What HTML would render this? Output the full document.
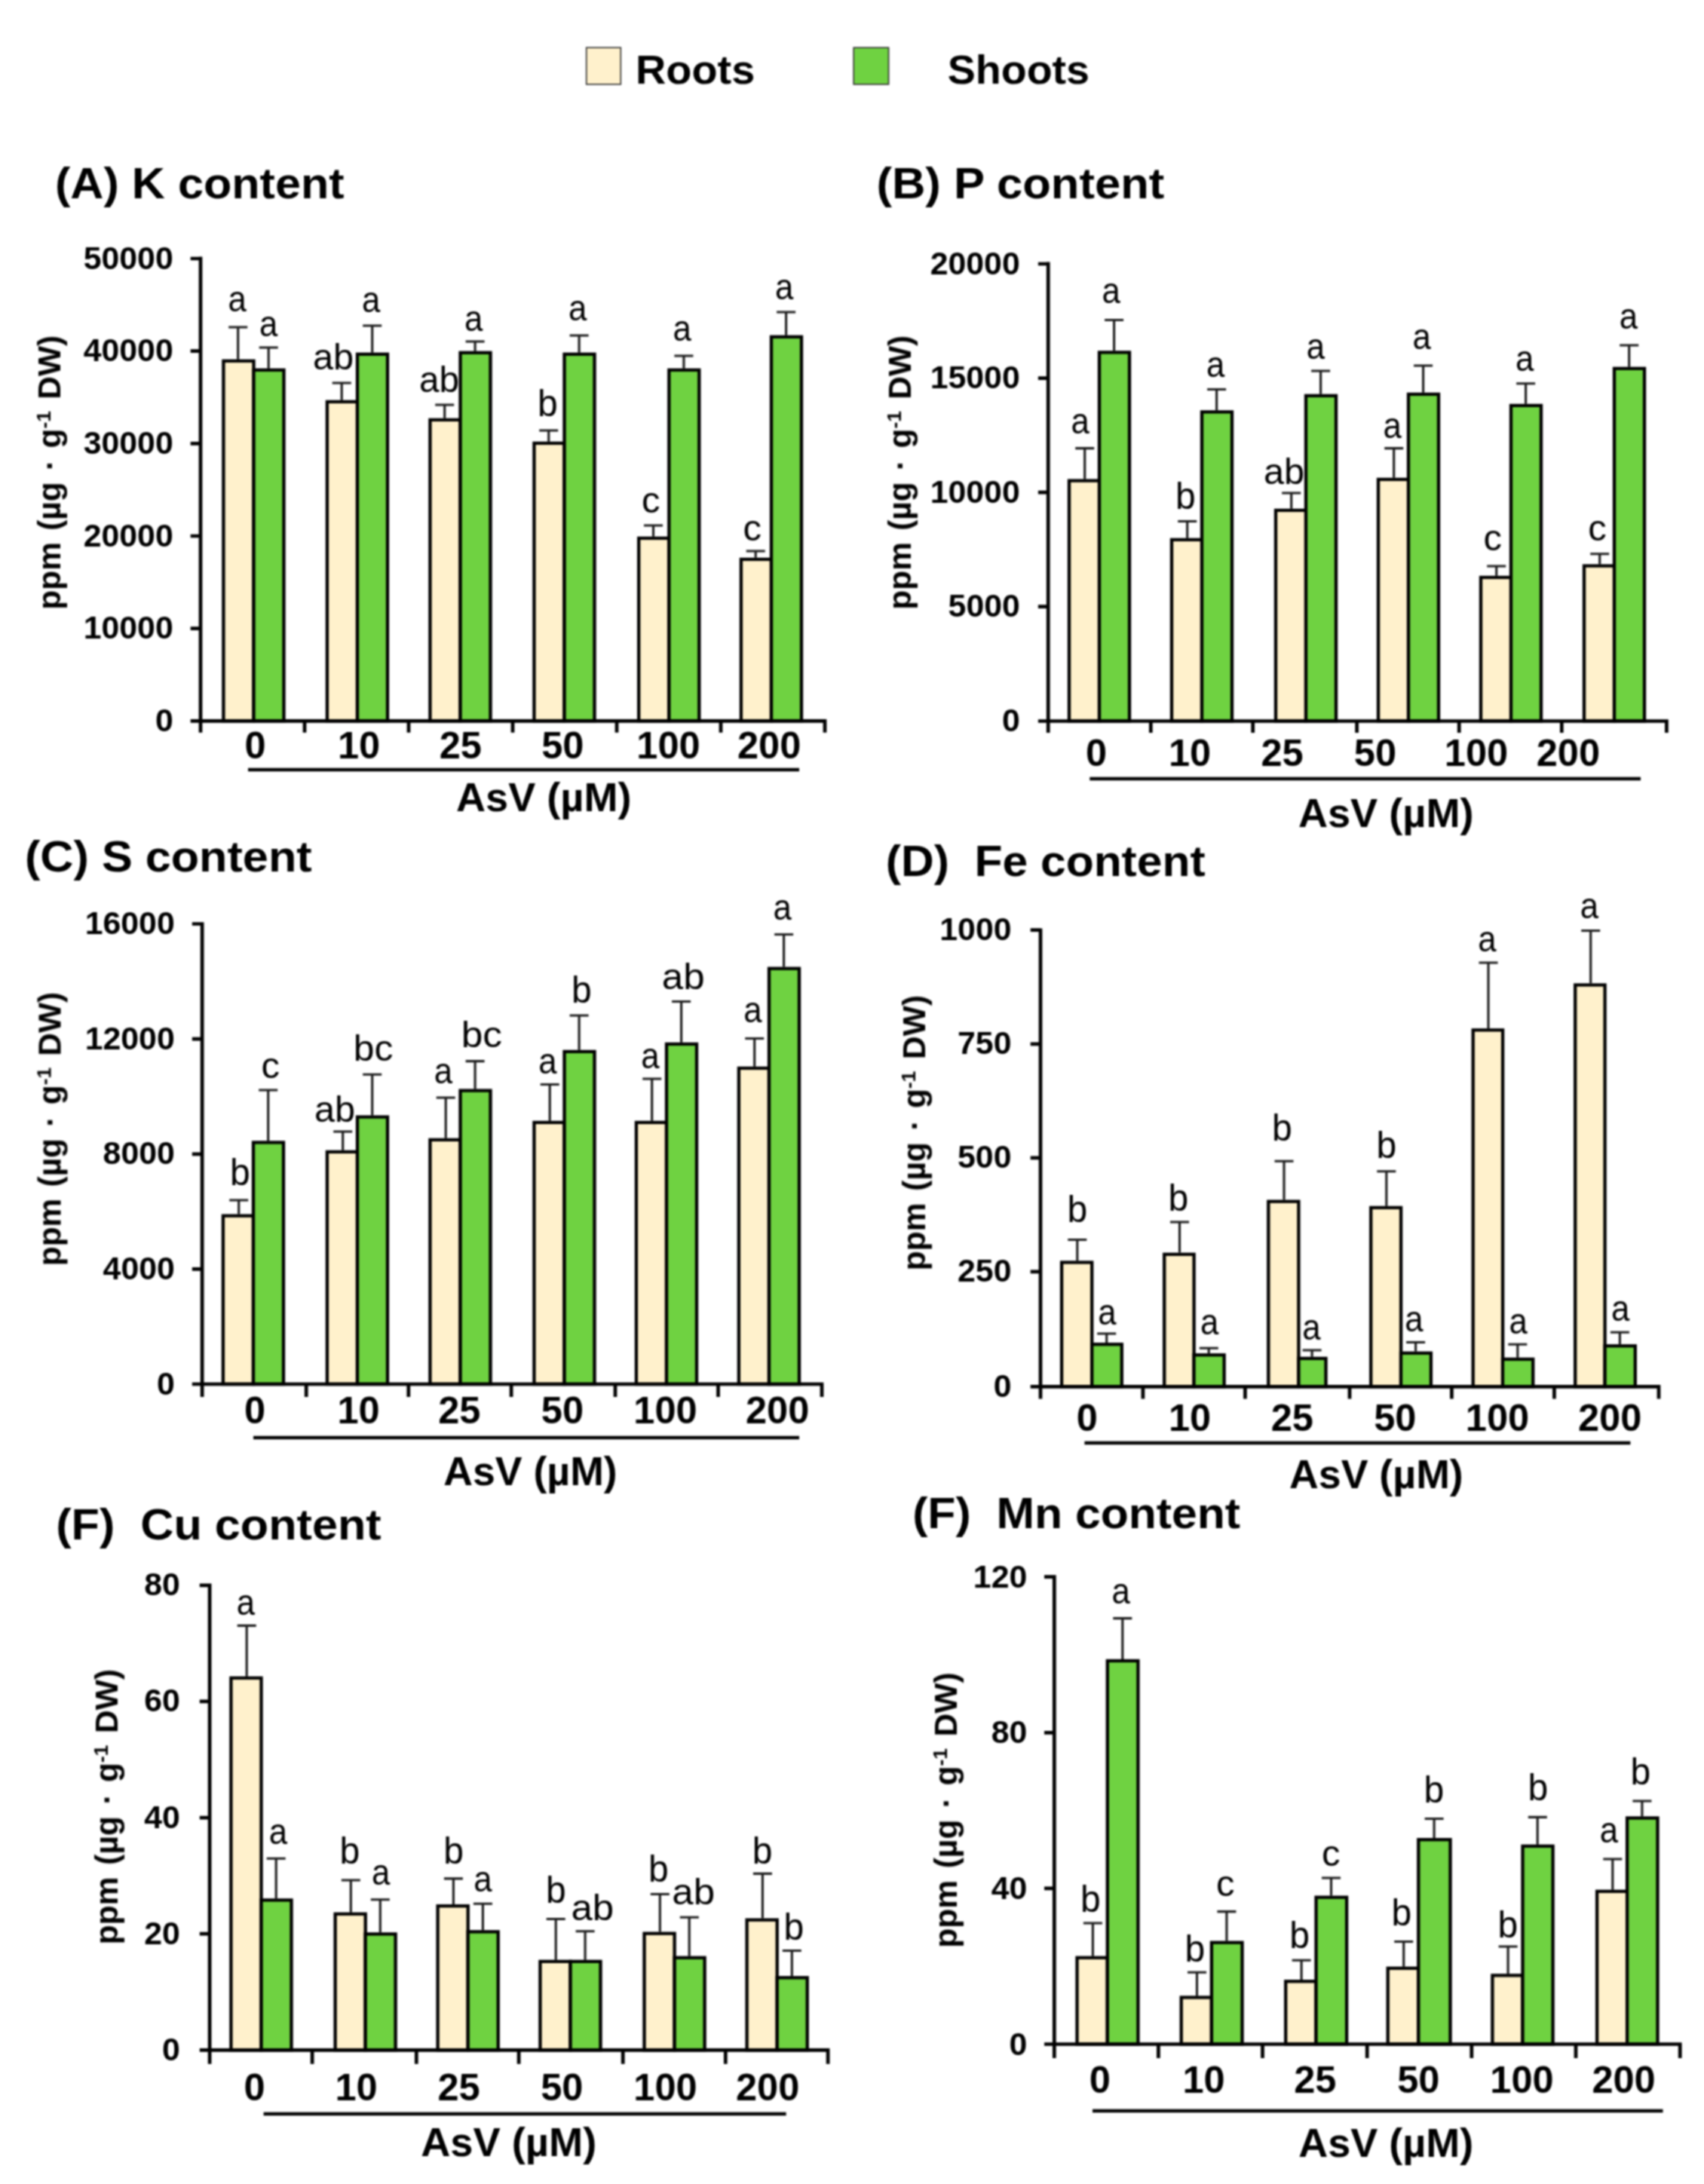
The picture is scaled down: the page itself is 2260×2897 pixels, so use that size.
<!DOCTYPE html>
<html lang="en">
<head>
<meta charset="utf-8">
<title>Nutrient content under AsV treatment</title>
<style>
html,body{margin:0;padding:0;background:#fff;}
body{width:2260px;height:2897px;overflow:hidden;}
svg{display:block;}
text{font-family:"Liberation Sans",sans-serif;fill:#000;white-space:pre;}
.b{font-weight:700;}
.r{font-weight:400;}
.a{fill:none;stroke:#000;stroke-width:4.7;stroke-linecap:butt;}
.u{fill:none;stroke:#000;stroke-width:4.4;}
.e{fill:none;stroke:#1c1c1c;stroke-width:3.1;}
.br{fill:#FFF1CC;stroke:#000;stroke-width:4.3;stroke-linejoin:miter;}
.bs{fill:#6FD241;stroke:#000;stroke-width:4.3;stroke-linejoin:miter;}
</style>
</head>
<body>
<svg xml:space="preserve" width="2260" height="2897" viewBox="0 0 2260 2897">
<defs><filter id="soft" x="0" y="0" width="2260" height="2897" filterUnits="userSpaceOnUse" color-interpolation-filters="sRGB"><feGaussianBlur stdDeviation="1"/></filter></defs>
<rect width="2260" height="2897" fill="#fff"/>
<g filter="url(#soft)">
<rect x="777.7" y="63.2" width="45.6" height="48.6" fill="#FFF1CC" stroke="#2a2a2a" stroke-width="1.6"/>
<rect x="1132.2" y="63.2" width="46.4" height="48.6" fill="#6FD241" stroke="#2a2a2a" stroke-width="1.6"/>
<text class="b" font-size="54" transform="translate(842.93,110.50) scale(1.0350,1)">Roots</text>
<text class="b" font-size="54" transform="translate(1256.73,110.50) scale(1.0293,1)">Shoots</text>
<g>
<path class="e" d="M315.7,476.7V434.0M303.2,434.0H328.2"/>
<path class="e" d="M356.2,488.7V461.0M343.7,461.0H368.7"/>
<rect class="br" x="296.4" y="478.8" width="40.1" height="477.4"/>
<rect class="bs" x="336.5" y="490.8" width="40.0" height="465.4"/>
<path class="e" d="M453.2,530.7V508.0M440.7,508.0H465.7"/>
<path class="e" d="M493.7,467.7V432.0M481.2,432.0H506.2"/>
<rect class="br" x="433.9" y="532.9" width="40.1" height="423.4"/>
<rect class="bs" x="474.0" y="469.8" width="40.0" height="486.4"/>
<path class="e" d="M589.7,554.7V537.0M577.2,537.0H602.2"/>
<path class="e" d="M630.1,465.7V453.0M617.6,453.0H642.6"/>
<rect class="br" x="570.4" y="556.9" width="40.1" height="399.4"/>
<rect class="bs" x="610.5" y="467.8" width="40.0" height="488.4"/>
<path class="e" d="M727.7,585.7V571.0M715.2,571.0H740.2"/>
<path class="e" d="M768.1,467.7V445.0M755.6,445.0H780.6"/>
<rect class="br" x="708.4" y="587.9" width="40.1" height="368.4"/>
<rect class="bs" x="748.5" y="469.8" width="40.0" height="486.4"/>
<path class="e" d="M866.5,711.7V697.0M854.0,697.0H879.0"/>
<path class="e" d="M906.9,488.7V472.0M894.4,472.0H919.4"/>
<rect class="br" x="847.2" y="713.9" width="40.1" height="242.4"/>
<rect class="bs" x="887.3" y="490.8" width="40.0" height="465.4"/>
<path class="e" d="M1002.2,739.7V731.0M989.7,731.0H1014.7"/>
<path class="e" d="M1042.6,444.7V414.0M1030.1,414.0H1055.1"/>
<rect class="br" x="982.9" y="741.9" width="40.1" height="214.4"/>
<rect class="bs" x="1023.0" y="446.8" width="40.0" height="509.4"/>
<path class="a" d="M266.0,340.6V971.8M252.7,956.3H1096.3M252.7,343.0H266.0M252.7,465.7H266.0M252.7,588.3H266.0M252.7,711.0H266.0M252.7,833.7H266.0M404.0,956.3V971.8M542.0,956.3V971.8M680.0,956.3V971.8M818.0,956.3V971.8M956.0,956.3V971.8M1094.0,956.3V971.8"/>
<text class="b" font-size="42.8" x="110.73" y="356.50">50000</text>
<text class="b" font-size="42.8" x="110.73" y="479.20">40000</text>
<text class="b" font-size="42.8" x="110.73" y="601.80">30000</text>
<text class="b" font-size="42.8" x="110.73" y="724.50">20000</text>
<text class="b" font-size="42.8" x="110.73" y="847.20">10000</text>
<text class="b" font-size="42.8" x="205.96" y="969.80">0</text>
<text class="b" font-size="50.5" x="324.49" y="1006.00">0</text>
<text class="b" font-size="50.5" x="447.90" y="1006.00">10</text>
<text class="b" font-size="50.5" x="582.78" y="1006.00">25</text>
<text class="b" font-size="50.5" x="718.23" y="1006.00">50</text>
<text class="b" font-size="50.5" x="844.33" y="1006.00">100</text>
<text class="b" font-size="50.5" x="978.02" y="1006.00">200</text>
<path class="u" d="M329.0,1021.0H1060.0"/>
<text class="b" font-size="53" transform="translate(605.05,1076.00) scale(1.0206,1)">AsV (µM)</text>
<text class="b" font-size="57" transform="translate(72.94,263.00) scale(1.0727,1)">(A) K content</text>
<text class="b" font-size="42.5" word-spacing="3.5" transform="translate(80.00,808.76) rotate(-90) scale(0.9996,1)">ppm (µg · g<tspan font-size="26.4" dy="-12.8">-1</tspan><tspan dy="12.8"> DW)</tspan></text>
<text class="r" font-size="48" transform="translate(302.45,412.50) scale(0.9100,1.0)">a</text>
<text class="r" font-size="48" transform="translate(343.95,445.50) scale(0.9100,1.0)">a</text>
<text class="r" font-size="48" transform="translate(414.93,489.50) scale(1.0138,1)">ab</text>
<text class="r" font-size="48" transform="translate(479.95,413.50) scale(0.9100,1.0)">a</text>
<text class="r" font-size="48" transform="translate(555.97,520.00) scale(0.9935,1)">ab</text>
<text class="r" font-size="48" transform="translate(615.95,439.10) scale(0.9100,1.0)">a</text>
<text class="r" font-size="48" transform="translate(713.08,551.50) scale(1.0000,1.04)">b</text>
<text class="r" font-size="48" transform="translate(753.95,424.50) scale(0.9100,1.0)">a</text>
<text class="r" font-size="48" transform="translate(850.99,679.50) scale(1.0200,1.0)">c</text>
<text class="r" font-size="48" transform="translate(892.45,451.50) scale(0.9100,1.0)">a</text>
<text class="r" font-size="48" transform="translate(985.39,716.50) scale(1.0200,1.0)">c</text>
<text class="r" font-size="48" transform="translate(1027.95,396.50) scale(0.9100,1.0)">a</text>
</g>
<g>
<path class="e" d="M1438.7,635.4V594.6M1426.2,594.6H1451.2"/>
<path class="e" d="M1477.6,465.3V424.5M1465.1,424.5H1490.1"/>
<rect class="br" x="1418.0" y="637.6" width="40.1" height="318.9"/>
<rect class="bs" x="1458.0" y="467.4" width="40.0" height="489.1"/>
<path class="e" d="M1574.7,713.7V691.5M1562.2,691.5H1587.2"/>
<path class="e" d="M1613.6,544.2V516.5M1601.1,516.5H1626.1"/>
<rect class="br" x="1554.0" y="715.9" width="40.1" height="240.6"/>
<rect class="bs" x="1594.0" y="546.4" width="40.0" height="410.1"/>
<path class="e" d="M1712.7,674.7V654.0M1700.2,654.0H1725.2"/>
<path class="e" d="M1751.6,522.7V492.0M1739.1,492.0H1764.1"/>
<rect class="br" x="1692.0" y="676.9" width="40.1" height="279.6"/>
<rect class="bs" x="1732.0" y="524.9" width="40.0" height="431.6"/>
<path class="e" d="M1848.7,633.7V594.6M1836.2,594.6H1861.2"/>
<path class="e" d="M1887.6,520.7V485.0M1875.1,485.0H1900.1"/>
<rect class="br" x="1828.0" y="635.9" width="40.1" height="320.6"/>
<rect class="bs" x="1868.0" y="522.9" width="40.0" height="433.6"/>
<path class="e" d="M1984.7,763.7V751.0M1972.2,751.0H1997.2"/>
<path class="e" d="M2023.6,535.7V508.7M2011.1,508.7H2036.1"/>
<rect class="br" x="1964.0" y="765.9" width="40.1" height="190.6"/>
<rect class="bs" x="2004.0" y="537.9" width="40.0" height="418.6"/>
<path class="e" d="M2121.7,748.4V734.7M2109.2,734.7H2134.2"/>
<path class="e" d="M2160.7,486.7V458.0M2148.2,458.0H2173.2"/>
<rect class="br" x="2101.0" y="750.6" width="40.1" height="205.9"/>
<rect class="bs" x="2141.0" y="488.8" width="40.0" height="467.7"/>
<path class="a" d="M1390.2,347.6V972.0M1376.9,956.5H2212.8M1376.9,350.0H1390.2M1376.9,501.6H1390.2M1376.9,653.2H1390.2M1376.9,804.7H1390.2M1526.3,956.5V972.0M1661.7,956.5V972.0M1799.6,956.5V972.0M1935.2,956.5V972.0M2071.3,956.5V972.0M2210.4,956.5V972.0"/>
<text class="b" font-size="42.8" x="1233.73" y="363.50">20000</text>
<text class="b" font-size="42.8" x="1233.73" y="515.10">15000</text>
<text class="b" font-size="42.8" x="1233.73" y="666.70">10000</text>
<text class="b" font-size="42.8" x="1257.59" y="818.20">5000</text>
<text class="b" font-size="42.8" x="1328.96" y="969.80">0</text>
<text class="b" font-size="50.5" x="1439.99" y="1016.00">0</text>
<text class="b" font-size="50.5" x="1549.90" y="1016.00">10</text>
<text class="b" font-size="50.5" x="1672.38" y="1016.00">25</text>
<text class="b" font-size="50.5" x="1795.82" y="1016.00">50</text>
<text class="b" font-size="50.5" x="1915.83" y="1016.00">100</text>
<text class="b" font-size="50.5" x="2037.72" y="1016.00">200</text>
<path class="u" d="M1445.3,1033.0H2176.0"/>
<text class="b" font-size="53" transform="translate(1721.95,1096.50) scale(1.0210,1)">AsV (µM)</text>
<text class="b" font-size="57" transform="translate(1162.42,263.00) scale(1.0801,1)">(B) P content</text>
<text class="b" font-size="42.5" word-spacing="3.5" transform="translate(1208.00,808.76) rotate(-90) scale(0.9996,1)">ppm (µg · g<tspan font-size="26.4" dy="-12.8">-1</tspan><tspan dy="12.8"> DW)</tspan></text>
<text class="r" font-size="48" transform="translate(1420.45,574.50) scale(0.9100,1.0)">a</text>
<text class="r" font-size="48" transform="translate(1461.45,402.10) scale(0.9100,1.0)">a</text>
<text class="r" font-size="48" transform="translate(1559.08,674.50) scale(1.0000,1.04)">b</text>
<text class="r" font-size="48" transform="translate(1599.95,499.50) scale(0.9100,1.0)">a</text>
<text class="r" font-size="48" transform="translate(1675.93,641.50) scale(1.0138,1)">ab</text>
<text class="r" font-size="48" transform="translate(1732.65,476.10) scale(0.9100,1.0)">a</text>
<text class="r" font-size="48" transform="translate(1834.55,580.90) scale(0.9100,1.0)">a</text>
<text class="r" font-size="48" transform="translate(1873.55,462.50) scale(0.9100,1.0)">a</text>
<text class="r" font-size="48" transform="translate(1967.39,730.00) scale(1.0200,1.0)">c</text>
<text class="r" font-size="48" transform="translate(2009.95,491.50) scale(0.9100,1.0)">a</text>
<text class="r" font-size="48" transform="translate(2106.19,716.50) scale(1.0200,1.0)">c</text>
<text class="r" font-size="48" transform="translate(2147.65,436.30) scale(0.9100,1.0)">a</text>
</g>
<g>
<path class="e" d="M316.7,1610.5V1592.0M304.2,1592.0H329.2"/>
<path class="e" d="M355.7,1513.2V1446.0M343.2,1446.0H368.2"/>
<rect class="br" x="295.9" y="1612.7" width="40.1" height="223.3"/>
<rect class="bs" x="336.0" y="1515.4" width="40.0" height="320.6"/>
<path class="e" d="M454.7,1525.7V1501.0M442.2,1501.0H467.2"/>
<path class="e" d="M493.7,1479.4V1425.3M481.2,1425.3H506.2"/>
<rect class="br" x="433.9" y="1527.9" width="40.1" height="308.1"/>
<rect class="bs" x="474.0" y="1481.6" width="40.0" height="354.4"/>
<path class="e" d="M591.2,1509.7V1456.0M578.7,1456.0H603.7"/>
<path class="e" d="M630.1,1444.4V1407.6M617.6,1407.6H642.6"/>
<rect class="br" x="570.4" y="1511.9" width="40.1" height="324.1"/>
<rect class="bs" x="610.5" y="1446.6" width="40.0" height="389.4"/>
<path class="e" d="M729.2,1486.7V1438.5M716.7,1438.5H741.7"/>
<path class="e" d="M768.1,1392.7V1347.0M755.6,1347.0H780.6"/>
<rect class="br" x="708.4" y="1488.9" width="40.1" height="347.1"/>
<rect class="bs" x="748.5" y="1394.9" width="40.0" height="441.1"/>
<path class="e" d="M864.7,1486.7V1431.0M852.2,1431.0H877.2"/>
<path class="e" d="M903.6,1382.7V1328.5M891.1,1328.5H916.1"/>
<rect class="br" x="843.9" y="1488.9" width="40.1" height="347.1"/>
<rect class="bs" x="884.0" y="1384.9" width="40.0" height="451.1"/>
<path class="e" d="M1000.7,1414.7V1377.5M988.2,1377.5H1013.2"/>
<path class="e" d="M1039.6,1282.5V1239.5M1027.1,1239.5H1052.1"/>
<rect class="br" x="979.9" y="1416.9" width="40.1" height="419.1"/>
<rect class="bs" x="1020.0" y="1284.7" width="40.0" height="551.4"/>
<path class="a" d="M268.1,1223.2V1853.0M254.8,1836.0H1092.3M254.8,1225.5H268.1M254.8,1378.1H268.1M254.8,1530.8H268.1M254.8,1683.4H268.1M406.2,1836.0V1853.0M541.8,1836.0V1853.0M678.1,1836.0V1853.0M816.0,1836.0V1853.0M952.5,1836.0V1853.0M1090.0,1836.0V1853.0"/>
<text class="b" font-size="42.8" x="112.73" y="1239.00">16000</text>
<text class="b" font-size="42.8" x="112.73" y="1391.62">12000</text>
<text class="b" font-size="42.8" x="136.59" y="1544.25">8000</text>
<text class="b" font-size="42.8" x="136.59" y="1696.88">4000</text>
<text class="b" font-size="42.8" x="207.96" y="1849.50">0</text>
<text class="b" font-size="50.5" x="323.99" y="1887.60">0</text>
<text class="b" font-size="50.5" x="447.40" y="1887.60">10</text>
<text class="b" font-size="50.5" x="581.28" y="1887.60">25</text>
<text class="b" font-size="50.5" x="717.83" y="1887.60">50</text>
<text class="b" font-size="50.5" x="840.33" y="1887.60">100</text>
<text class="b" font-size="50.5" x="989.02" y="1887.60">200</text>
<path class="u" d="M336.0,1907.0H1060.0"/>
<text class="b" font-size="53" transform="translate(588.26,1970.00) scale(1.0117,1)">AsV (µM)</text>
<text class="b" font-size="57" transform="translate(32.94,1156.00) scale(1.0737,1)">(C) S content</text>
<text class="b" font-size="42.5" word-spacing="3.5" transform="translate(80.50,1679.26) rotate(-90) scale(0.9982,1)">ppm (µg · g<tspan font-size="26.4" dy="-12.8">-1</tspan><tspan dy="12.8"> DW)</tspan></text>
<text class="r" font-size="48" transform="translate(305.08,1571.50) scale(1.0000,1.04)">b</text>
<text class="r" font-size="48" transform="translate(346.39,1429.50) scale(1.0200,1.0)">c</text>
<text class="r" font-size="48" transform="translate(416.93,1487.50) scale(1.0138,1)">ab</text>
<text class="r" font-size="48" transform="translate(468.76,1407.00) scale(1.0390,1)">bc</text>
<text class="r" font-size="48" transform="translate(575.65,1436.50) scale(0.9100,1.0)">a</text>
<text class="r" font-size="48" transform="translate(611.66,1388.50) scale(1.0714,1)">bc</text>
<text class="r" font-size="48" transform="translate(714.35,1423.50) scale(0.9100,1.0)">a</text>
<text class="r" font-size="48" transform="translate(758.08,1330.00) scale(1.0000,1.04)">b</text>
<text class="r" font-size="48" transform="translate(850.35,1416.50) scale(0.9100,1.0)">a</text>
<text class="r" font-size="48" transform="translate(877.83,1312.20) scale(1.0645,1)">ab</text>
<text class="r" font-size="48" transform="translate(986.35,1355.50) scale(0.9100,1.0)">a</text>
<text class="r" font-size="48" transform="translate(1025.45,1219.50) scale(0.9100,1.0)">a</text>
</g>
<g>
<path class="e" d="M1428.8,1672.3V1644.5M1416.3,1644.5H1441.3"/>
<path class="e" d="M1467.7,1781.0V1769.0M1455.2,1769.0H1480.2"/>
<rect class="br" x="1408.1" y="1674.5" width="40.1" height="164.8"/>
<rect class="bs" x="1448.2" y="1783.2" width="39.6" height="56.1"/>
<path class="e" d="M1564.5,1661.6V1621.0M1552.0,1621.0H1577.0"/>
<path class="e" d="M1603.2,1795.1V1788.3M1590.8,1788.3H1615.8"/>
<rect class="br" x="1544.2" y="1663.8" width="39.4" height="175.5"/>
<rect class="bs" x="1583.5" y="1797.3" width="40.1" height="42.0"/>
<path class="e" d="M1703.0,1591.5V1540.2M1690.5,1540.2H1715.5"/>
<path class="e" d="M1740.1,1799.7V1791.0M1727.6,1791.0H1752.6"/>
<rect class="br" x="1682.3" y="1593.7" width="40.1" height="245.6"/>
<rect class="bs" x="1722.4" y="1801.9" width="36.1" height="37.4"/>
<path class="e" d="M1838.8,1599.7V1553.8M1826.3,1553.8H1851.3"/>
<path class="e" d="M1877.6,1792.6V1780.5M1865.1,1780.5H1890.1"/>
<rect class="br" x="1818.2" y="1601.9" width="39.9" height="237.4"/>
<rect class="bs" x="1858.0" y="1794.8" width="39.9" height="44.5"/>
<path class="e" d="M1974.0,1364.1V1277.0M1961.5,1277.0H1986.5"/>
<path class="e" d="M2012.8,1800.7V1783.3M2000.3,1783.3H2025.3"/>
<rect class="br" x="1953.7" y="1366.3" width="39.4" height="473.0"/>
<rect class="bs" x="1993.0" y="1802.9" width="40.2" height="36.4"/>
<path class="e" d="M2109.7,1304.3V1234.5M2097.2,1234.5H2122.2"/>
<path class="e" d="M2148.4,1783.1V1767.3M2135.9,1767.3H2160.9"/>
<rect class="br" x="2089.2" y="1306.5" width="39.4" height="532.9"/>
<rect class="bs" x="2128.6" y="1785.3" width="40.2" height="54.0"/>
<path class="a" d="M1380.0,1231.4V1855.5M1366.7,1839.3H2202.3M1366.7,1233.7H1380.0M1366.7,1384.8H1380.0M1366.7,1535.9H1380.0M1366.7,1686.9H1380.0M1515.9,1839.3V1855.5M1651.4,1839.3V1855.5M1790.0,1839.3V1855.5M1925.4,1839.3V1855.5M2061.4,1839.3V1855.5M2200.0,1839.3V1855.5"/>
<text class="b" font-size="42.8" x="1246.29" y="1247.20">1000</text>
<text class="b" font-size="42.8" x="1270.04" y="1398.30">750</text>
<text class="b" font-size="42.8" x="1270.04" y="1549.40">500</text>
<text class="b" font-size="42.8" x="1270.04" y="1700.40">250</text>
<text class="b" font-size="42.8" x="1317.66" y="1852.80">0</text>
<text class="b" font-size="50.5" x="1427.69" y="1898.00">0</text>
<text class="b" font-size="50.5" x="1549.90" y="1898.00">10</text>
<text class="b" font-size="50.5" x="1685.78" y="1898.00">25</text>
<text class="b" font-size="50.5" x="1822.22" y="1898.00">50</text>
<text class="b" font-size="50.5" x="1943.83" y="1898.00">100</text>
<text class="b" font-size="50.5" x="2093.02" y="1898.00">200</text>
<path class="u" d="M1438.4,1914.0H2162.4"/>
<text class="b" font-size="53" transform="translate(1710.06,1974.00) scale(1.0125,1)">AsV (µM)</text>
<text class="b" font-size="57" transform="translate(1174.77,1162.00) scale(1.0626,1)">(D)  Fe content</text>
<text class="b" font-size="42.5" word-spacing="3.5" transform="translate(1227.00,1685.37) rotate(-90) scale(1.0041,1)">ppm (µg · g<tspan font-size="26.4" dy="-12.8">-1</tspan><tspan dy="12.8"> DW)</tspan></text>
<text class="r" font-size="48" transform="translate(1415.48,1621.30) scale(1.0000,1.04)">b</text>
<text class="r" font-size="48" transform="translate(1456.25,1756.50) scale(0.9100,1.0)">a</text>
<text class="r" font-size="48" transform="translate(1549.38,1606.00) scale(1.0000,1.04)">b</text>
<text class="r" font-size="48" transform="translate(1591.95,1770.00) scale(0.9100,1.0)">a</text>
<text class="r" font-size="48" transform="translate(1687.08,1512.50) scale(1.0000,1.04)">b</text>
<text class="r" font-size="48" transform="translate(1727.35,1777.00) scale(0.9100,1.0)">a</text>
<text class="r" font-size="48" transform="translate(1825.48,1536.00) scale(1.0000,1.04)">b</text>
<text class="r" font-size="48" transform="translate(1863.35,1766.30) scale(0.9100,1.0)">a</text>
<text class="r" font-size="48" transform="translate(1960.25,1261.50) scale(0.9100,1.0)">a</text>
<text class="r" font-size="48" transform="translate(2001.45,1768.80) scale(0.9100,1.0)">a</text>
<text class="r" font-size="48" transform="translate(2095.75,1217.50) scale(0.9100,1.0)">a</text>
<text class="r" font-size="48" transform="translate(2136.95,1752.30) scale(0.9100,1.0)">a</text>
</g>
<g>
<path class="e" d="M327.2,2223.7V2156.4M314.7,2156.4H339.7"/>
<path class="e" d="M366.2,2518.3V2465.3M353.7,2465.3H378.7"/>
<rect class="br" x="306.4" y="2225.8" width="40.1" height="493.5"/>
<rect class="bs" x="346.5" y="2520.4" width="40.0" height="198.9"/>
<path class="e" d="M465.3,2536.7V2494.0M452.8,2494.0H477.8"/>
<path class="e" d="M504.3,2563.3V2519.7M491.8,2519.7H516.8"/>
<rect class="br" x="444.6" y="2538.8" width="40.1" height="180.5"/>
<rect class="bs" x="484.6" y="2565.4" width="40.0" height="153.9"/>
<path class="e" d="M601.4,2526.0V2491.9M588.9,2491.9H613.9"/>
<path class="e" d="M640.4,2560.3V2525.3M627.9,2525.3H652.9"/>
<rect class="br" x="580.6" y="2528.2" width="40.1" height="191.2"/>
<rect class="bs" x="620.7" y="2562.4" width="40.0" height="156.9"/>
<path class="e" d="M737.2,2599.7V2545.5M724.7,2545.5H749.7"/>
<path class="e" d="M776.1,2599.7V2561.8M763.6,2561.8H788.6"/>
<rect class="br" x="716.4" y="2601.8" width="40.1" height="117.5"/>
<rect class="bs" x="756.5" y="2601.8" width="40.0" height="117.5"/>
<path class="e" d="M875.3,2562.5V2512.5M862.8,2512.5H887.8"/>
<path class="e" d="M914.2,2594.7V2543.3M901.8,2543.3H926.8"/>
<rect class="br" x="854.5" y="2564.7" width="40.1" height="154.7"/>
<rect class="bs" x="894.6" y="2596.8" width="40.0" height="122.5"/>
<path class="e" d="M1011.4,2544.5V2485.4M998.9,2485.4H1023.9"/>
<path class="e" d="M1050.3,2621.2V2587.5M1037.8,2587.5H1062.8"/>
<rect class="br" x="990.6" y="2546.7" width="40.1" height="172.7"/>
<rect class="bs" x="1030.7" y="2623.3" width="40.0" height="96.0"/>
<path class="a" d="M278.1,2100.5V2737.8M264.8,2719.3H1100.4M264.8,2102.8H278.1M264.8,2256.9H278.1M264.8,2411.1H278.1M264.8,2565.2H278.1M414.1,2719.3V2737.8M552.3,2719.3V2737.8M688.1,2719.3V2737.8M826.2,2719.3V2737.8M962.3,2719.3V2737.8M1098.1,2719.3V2737.8"/>
<text class="b" font-size="42.8" x="191.20" y="2116.30">80</text>
<text class="b" font-size="42.8" x="191.20" y="2270.43">60</text>
<text class="b" font-size="42.8" x="191.20" y="2424.55">40</text>
<text class="b" font-size="42.8" x="191.20" y="2578.68">20</text>
<text class="b" font-size="42.8" x="214.96" y="2732.80">0</text>
<text class="b" font-size="50.5" x="323.59" y="2785.70">0</text>
<text class="b" font-size="50.5" x="444.40" y="2785.70">10</text>
<text class="b" font-size="50.5" x="580.48" y="2785.70">25</text>
<text class="b" font-size="50.5" x="717.23" y="2785.70">50</text>
<text class="b" font-size="50.5" x="840.33" y="2785.70">100</text>
<text class="b" font-size="50.5" x="976.02" y="2785.70">200</text>
<path class="u" d="M349.6,2804.0H1042.6"/>
<text class="b" font-size="53" transform="translate(558.14,2860.00) scale(1.0233,1)">AsV (µM)</text>
<text class="b" font-size="57" transform="translate(74.24,2041.50) scale(1.0731,1)">(F)  Cu content</text>
<text class="b" font-size="42.5" word-spacing="3.5" transform="translate(156.00,2579.37) rotate(-90) scale(1.0041,1)">ppm (µg · g<tspan font-size="26.4" dy="-12.8">-1</tspan><tspan dy="12.8"> DW)</tspan></text>
<text class="r" font-size="48" transform="translate(313.75,2141.50) scale(0.9100,1.0)">a</text>
<text class="r" font-size="48" transform="translate(356.65,2446.20) scale(0.9100,1.0)">a</text>
<text class="r" font-size="48" transform="translate(450.58,2471.90) scale(1.0000,1.04)">b</text>
<text class="r" font-size="48" transform="translate(492.95,2499.80) scale(0.9100,1.0)">a</text>
<text class="r" font-size="48" transform="translate(588.28,2471.90) scale(1.0000,1.04)">b</text>
<text class="r" font-size="48" transform="translate(628.25,2508.50) scale(0.9100,1.0)">a</text>
<text class="r" font-size="48" transform="translate(724.08,2523.50) scale(1.0000,1.04)">b</text>
<text class="r" font-size="48" transform="translate(757.43,2547.00) scale(1.0624,1)">ab</text>
<text class="r" font-size="48" transform="translate(860.08,2495.50) scale(1.0000,1.04)">b</text>
<text class="r" font-size="48" transform="translate(891.33,2525.50) scale(1.0645,1)">ab</text>
<text class="r" font-size="48" transform="translate(997.78,2471.90) scale(1.0000,1.04)">b</text>
<text class="r" font-size="48" transform="translate(1039.38,2572.70) scale(1.0000,1.04)">b</text>
</g>
<g>
<path class="e" d="M1449.4,2594.7V2551.0M1436.9,2551.0H1461.9"/>
<path class="e" d="M1488.8,2200.9V2146.6M1476.3,2146.6H1501.3"/>
<rect class="br" x="1428.5" y="2596.8" width="40.2" height="114.7"/>
<rect class="bs" x="1468.8" y="2203.0" width="40.6" height="508.5"/>
<path class="e" d="M1587.5,2647.4V2616.3M1575.0,2616.3H1600.0"/>
<path class="e" d="M1626.9,2574.5V2535.6M1614.4,2535.6H1639.4"/>
<rect class="br" x="1566.7" y="2649.5" width="40.2" height="62.0"/>
<rect class="bs" x="1606.9" y="2576.7" width="40.6" height="134.8"/>
<path class="e" d="M1726.1,2626.0V2600.2M1713.6,2600.2H1738.6"/>
<path class="e" d="M1765.5,2514.5V2491.0M1753.0,2491.0H1778.0"/>
<rect class="br" x="1705.2" y="2628.2" width="40.2" height="83.3"/>
<rect class="bs" x="1745.5" y="2516.7" width="40.6" height="194.8"/>
<path class="e" d="M1861.7,2608.7V2575.5M1849.2,2575.5H1874.2"/>
<path class="e" d="M1902.1,2438.1V2412.5M1889.6,2412.5H1914.6"/>
<rect class="br" x="1840.7" y="2610.8" width="40.6" height="100.7"/>
<rect class="bs" x="1881.3" y="2440.2" width="42.2" height="271.3"/>
<path class="e" d="M2000.1,2618.2V2582.0M1987.6,2582.0H2012.6"/>
<path class="e" d="M2039.2,2446.7V2410.4M2026.8,2410.4H2051.8"/>
<rect class="br" x="1979.4" y="2620.3" width="40.1" height="91.2"/>
<rect class="bs" x="2019.5" y="2448.8" width="40.1" height="262.7"/>
<path class="e" d="M2138.8,2506.7V2466.0M2126.3,2466.0H2151.3"/>
<path class="e" d="M2177.9,2409.4V2389.0M2165.4,2389.0H2190.4"/>
<rect class="br" x="2118.1" y="2508.8" width="40.1" height="202.7"/>
<rect class="bs" x="2158.1" y="2411.5" width="40.4" height="300.0"/>
<path class="a" d="M1398.3,2089.3V2730.0M1385.0,2711.5H2230.5M1385.0,2091.7H1398.3M1385.0,2298.3H1398.3M1385.0,2504.9H1398.3M1536.4,2711.5V2730.0M1674.5,2711.5V2730.0M1813.2,2711.5V2730.0M1951.8,2711.5V2730.0M2090.0,2711.5V2730.0M2228.2,2711.5V2730.0"/>
<text class="b" font-size="42.8" x="1290.84" y="2105.70">120</text>
<text class="b" font-size="42.8" x="1314.70" y="2312.30">80</text>
<text class="b" font-size="42.8" x="1314.70" y="2518.90">40</text>
<text class="b" font-size="42.8" x="1338.46" y="2725.50">0</text>
<text class="b" font-size="50.5" x="1444.79" y="2775.50">0</text>
<text class="b" font-size="50.5" x="1568.40" y="2775.50">10</text>
<text class="b" font-size="50.5" x="1716.28" y="2775.50">25</text>
<text class="b" font-size="50.5" x="1853.22" y="2775.50">50</text>
<text class="b" font-size="50.5" x="1976.33" y="2775.50">100</text>
<text class="b" font-size="50.5" x="2111.42" y="2775.50">200</text>
<path class="u" d="M1449.0,2800.0H2205.5"/>
<text class="b" font-size="53" transform="translate(1722.25,2860.70) scale(1.0184,1)">AsV (µM)</text>
<text class="b" font-size="57" transform="translate(1210.16,2026.50) scale(1.0651,1)">(F)  Mn content</text>
<text class="b" font-size="42.5" word-spacing="3.5" transform="translate(1269.00,2583.77) rotate(-90) scale(1.0038,1)">ppm (µg · g<tspan font-size="26.4" dy="-12.8">-1</tspan><tspan dy="12.8"> DW)</tspan></text>
<text class="r" font-size="48" transform="translate(1433.08,2535.50) scale(1.0000,1.04)">b</text>
<text class="r" font-size="48" transform="translate(1474.55,2126.50) scale(0.9100,1.0)">a</text>
<text class="r" font-size="48" transform="translate(1571.58,2601.50) scale(1.0000,1.04)">b</text>
<text class="r" font-size="48" transform="translate(1613.09,2514.80) scale(1.0200,1.0)">c</text>
<text class="r" font-size="48" transform="translate(1710.28,2584.30) scale(1.0000,1.04)">b</text>
<text class="r" font-size="48" transform="translate(1753.09,2475.40) scale(1.0200,1.0)">c</text>
<text class="r" font-size="48" transform="translate(1845.48,2553.50) scale(1.0000,1.04)">b</text>
<text class="r" font-size="48" transform="translate(1888.38,2390.50) scale(1.0000,1.04)">b</text>
<text class="r" font-size="48" transform="translate(1986.58,2569.70) scale(1.0000,1.04)">b</text>
<text class="r" font-size="48" transform="translate(2026.48,2388.30) scale(1.0000,1.04)">b</text>
<text class="r" font-size="48" transform="translate(2121.75,2444.00) scale(0.9100,1.0)">a</text>
<text class="r" font-size="48" transform="translate(2162.48,2366.80) scale(1.0000,1.04)">b</text>
</g>
</g>
</svg>
</body>
</html>
